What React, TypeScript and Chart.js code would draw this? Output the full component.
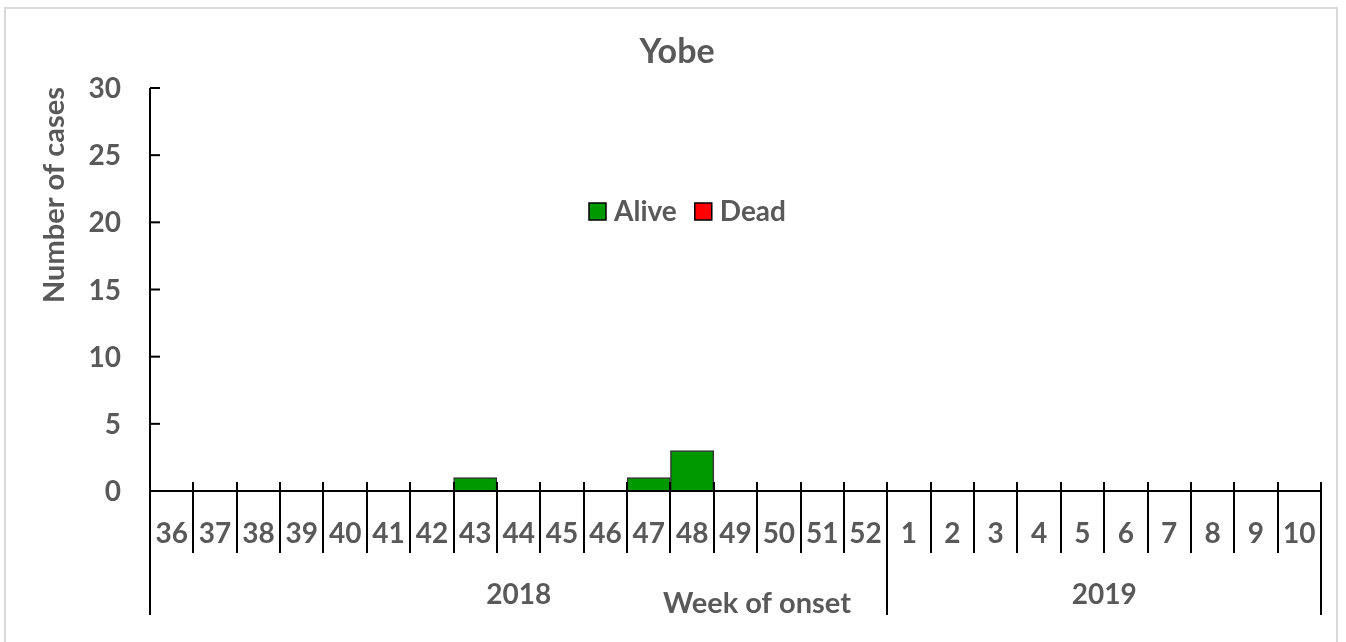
import React, { useEffect, useRef } from "react";
import { Chart, registerables } from "chart.js";

Chart.register(...registerables);

const weeks = ["36","37","38","39","40","41","42","43","44","45","46","47","48","49","50","51","52","1","2","3","4","5","6","7","8","9","10"];
const alive = [0,0,0,0,0,0,0,1,0,0,0,1,3,0,0,0,0,0,0,0,0,0,0,0,0,0,0];
const dead = [0,0,0,0,0,0,0,0,0,0,0,0,0,0,0,0,0,0,0,0,0,0,0,0,0,0,0];
const yTicks = [0,5,10,15,20,25,30];
const years = ["2018","2019"];
const yearSpans = [17,10];
const title = "Yobe";
const xTitle = "Week of onset";
const yTitle = "Number of cases";

const TEXT = "#595959";
const FONT = "Lato, 'Open Sans', sans-serif";
const W = "bold";

const decor = {
  id: "decor",
  afterDraw(chart: any) {
    const ctx = chart.ctx as CanvasRenderingContext2D;
    const xs = chart.scales.x;
    const ys = chart.scales.y;
    const ca = chart.chartArea;
    const y0 = ys.getPixelForValue(0);
    const bottomY = 615;
    const tickTop = y0 - 9;
    const tickBottom = 553;
    ctx.save();

    // outer frame
    ctx.strokeStyle = "#d9d9d9";
    ctx.lineWidth = 2;
    ctx.strokeRect(5, 8, 1332, 700);

    // title
    ctx.fillStyle = TEXT;
    ctx.textAlign = "center";
    ctx.textBaseline = "middle";
    ctx.font = `${W} 34px ${FONT}`;
    ctx.fillText(title, 677, 52);

    // legend
    ctx.font = `${W} 28px ${FONT}`;
    ctx.textAlign = "left";
    let lx = 589;
    const ly = 211;
    chart.data.datasets.forEach((ds: any) => {
      ctx.fillStyle = ds.backgroundColor;
      ctx.fillRect(lx, ly - 8, 17, 17);
      ctx.strokeStyle = "#000";
      ctx.lineWidth = 1.5;
      ctx.strokeRect(lx, ly - 8, 17, 17);
      ctx.fillStyle = TEXT;
      ctx.fillText(ds.label, lx + 25, ly + 1);
      lx += 25 + ctx.measureText(ds.label).width + 18;
    });

    ctx.strokeStyle = "#000";
    ctx.lineWidth = 2;

    // y axis line
    ctx.beginPath();
    ctx.moveTo(ca.left, ca.top);
    ctx.lineTo(ca.left, bottomY);
    ctx.stroke();

    // y ticks and labels
    ctx.font = `${W} 28px ${FONT}`;
    ctx.textAlign = "right";
    ctx.fillStyle = TEXT;
    yTicks.forEach((v) => {
      const py = ys.getPixelForValue(v);
      ctx.beginPath();
      ctx.moveTo(ca.left, py);
      ctx.lineTo(ca.left + 10, py);
      ctx.stroke();
      ctx.fillText(String(v), 121, py + 1);
    });

    // x axis line
    ctx.beginPath();
    ctx.moveTo(ca.left, y0);
    ctx.lineTo(ca.right, y0);
    ctx.stroke();

    // category boundaries
    for (let i = 0; i <= weeks.length; i++) {
      const px = Math.round(xs.getPixelForValue(i - 0.5));
      ctx.beginPath();
      ctx.moveTo(px, tickTop);
      ctx.lineTo(px, tickBottom);
      ctx.stroke();
    }

    // week labels
    ctx.textAlign = "center";
    weeks.forEach((w, i) => {
      ctx.fillText(w, xs.getPixelForValue(i), 534);
    });

    // year separators and labels
    let start = 0;
    const seps = [0];
    years.forEach((yr, k) => {
      const end = start + yearSpans[k];
      const a = xs.getPixelForValue(start - 0.5);
      const b = xs.getPixelForValue(end - 0.5);
      ctx.fillText(yr, (a + b) / 2, 595);
      seps.push(end);
      start = end;
    });
    seps.forEach((s) => {
      const px = Math.round(xs.getPixelForValue(s - 0.5));
      ctx.beginPath();
      ctx.moveTo(px, tickBottom);
      ctx.lineTo(px, bottomY);
      ctx.stroke();
    });

    // x title
    ctx.font = `${W} 29px ${FONT}`;
    ctx.fillText(xTitle, 757, 604);

    // y title
    ctx.save();
    ctx.translate(55, 195);
    ctx.rotate(-Math.PI / 2);
    ctx.fillText(yTitle, 0, 0);
    ctx.restore();

    ctx.restore();
  },
};

export default function App() {
  const ref = useRef<HTMLCanvasElement | null>(null);
  useEffect(() => {
    if (!ref.current) return;
    const chart = new Chart(ref.current, {
      type: "bar",
      data: {
        labels: weeks,
        datasets: [
          { label: "Alive", data: alive, backgroundColor: "#009900", borderColor: "#333333", borderWidth: 1.5, categoryPercentage: 1, barPercentage: 1 },
          { label: "Dead", data: dead, backgroundColor: "#ff0000", borderColor: "#333333", borderWidth: 1.5, categoryPercentage: 1, barPercentage: 1 },
        ],
      },
      options: {
        responsive: false,
        animation: false,
        devicePixelRatio: 1,
        layout: { padding: { left: 150, right: 25, top: 88, bottom: 151 } },
        plugins: { legend: { display: false }, title: { display: false }, tooltip: { enabled: false } },
        scales: {
          x: { display: false, stacked: true, offset: true },
          y: { display: false, stacked: true, min: 0, max: 30, ticks: { stepSize: 5 } },
        },
      },
      plugins: [decor],
    });
    return () => chart.destroy();
  }, []);
  return (
    <div style={{ position: "fixed", left: 0, top: 0, width: 1346, height: 642, background: "#fff" }}>
      <canvas ref={ref} width={1346} height={642} style={{ display: "block" }} />
    </div>
  );
}
